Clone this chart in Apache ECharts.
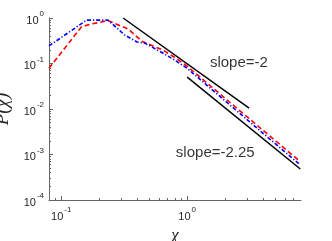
<!DOCTYPE html>
<html>
<head>
<meta charset="utf-8">
<script src="https://cdn.jsdelivr.net/npm/echarts@6/dist/echarts.min.js"></script>
<style>html,body{margin:0;padding:0;background:#fff;}#c{width:332px;height:241px;}</style>
</head>
<body>
<div id="c"></div>
<script>
// ---- data ----
var blueX = [0.08, 0.159, 0.235, 0.32, 0.40, 0.46, 0.54, 0.64, 0.8, 1.0, 2.0, 4.0, 7.9];
var blueY = [0.243, 0.90, 0.90, 0.42, 0.297, 0.28, 0.22, 0.17, 0.118, 0.078, 0.0151, 0.00292, 0.00059];
var redX = [0.08, 0.145, 0.174, 0.235, 0.33, 0.37, 0.435, 0.54, 0.64, 0.8, 1.0, 2.0, 4.0, 7.9];
var redY = [0.0785, 0.644, 0.738, 0.873, 0.594, 0.468, 0.31, 0.24, 0.198, 0.135, 0.087, 0.0171, 0.0034, 0.000695];
var slope2X = [0.31, 3.1];
var slope2Y = [1.0, 0.0105];
var slope225X = [1.0, 7.9];
var slope225Y = [0.05, 0.00048];
var xMajorTicks = [0.1, 1];
var xMinorTicks = [0.09, 0.2, 0.3, 0.4, 0.5, 0.6, 0.7, 0.8, 0.9, 2, 3, 4, 5, 6, 7];
var yMajorTicks = [0.0001, 0.001, 0.01, 0.1, 1];
var yMinorTicks = [0.0002,0.0003,0.0004,0.0005,0.0006,0.0007,0.0008,0.0009,
                   0.002,0.003,0.004,0.005,0.006,0.007,0.008,0.009,
                   0.02,0.03,0.04,0.05,0.06,0.07,0.08,0.09,
                   0.2,0.3,0.4,0.5,0.6,0.7,0.8,0.9];
var annotations = [
  {text: 'slope=-2', x: 2.57, y: 0.103},
  {text: 'slope=-2.25', x: 1.67, y: 0.00108}
];

function zip(a, b) { return a.map(function (v, i) { return [v, b[i]]; }); }
function powLabel(v) {
  var e = Math.round(Math.log10(v));
  return '{b|10}{s|' + e + '}';
}
var FONT = 'Liberation Sans';
var richLab = {
  b: {fontSize: 11, fontFamily: FONT, color: '#262626', verticalAlign: 'bottom', lineHeight: 16},
  s: {fontSize: 8, fontFamily: FONT, color: '#262626', verticalAlign: 'top', lineHeight: 16, padding: [0, 0, 0, 1]}
};
var axisCol = '#666666';

var chart = echarts.init(document.getElementById('c'), null, {renderer: 'canvas'});
chart.setOption({
  animation: false,
  backgroundColor: '#ffffff',
  grid: {left: 49, top: 18, width: 252, height: 182, containLabel: false, outerBoundsMode: 'none'},
  xAxis: [{
    type: 'log', logBase: 10, min: 0.08, max: 8, position: 'bottom',
    name: 'χ', nameLocation: 'middle', nameGap: 22,
    nameTextStyle: {fontFamily: 'Liberation Serif', fontStyle: 'italic', fontSize: 17, color: '#262626'},
    axisLine: {show: true, lineStyle: {color: axisCol, width: 1}},
    axisTick: {show: true, inside: true, length: 4, customValues: xMajorTicks, lineStyle: {color: axisCol}},
    minorTick: {show: false},
    axisLabel: {customValues: xMajorTicks, formatter: powLabel, rich: richLab, margin: 6},
    splitLine: {show: false}
  }, {
    type: 'log', logBase: 10, min: 0.08, max: 8, position: 'bottom', gridIndex: 0,
    axisLine: {show: false},
    axisTick: {show: true, inside: true, length: 2, customValues: xMinorTicks, lineStyle: {color: axisCol}},
    axisLabel: {show: false},
    splitLine: {show: false}
  }],
  yAxis: [{
    type: 'log', logBase: 10, min: 0.0001, max: 1, position: 'left',
    name: 'P(χ)', nameLocation: 'middle', nameGap: 29, nameRotate: 90,
    nameTextStyle: {fontFamily: 'Liberation Serif', fontStyle: 'italic', fontSize: 19, color: '#262626'},
    axisLine: {show: true, lineStyle: {color: axisCol, width: 1}},
    axisTick: {show: true, inside: true, length: 4, customValues: yMajorTicks, lineStyle: {color: axisCol}},
    axisLabel: {customValues: yMajorTicks, formatter: powLabel, rich: richLab, margin: 5},
    splitLine: {show: false}
  }, {
    type: 'log', logBase: 10, min: 0.0001, max: 1, position: 'left',
    axisLine: {show: false},
    axisTick: {show: true, inside: true, length: 2, customValues: yMinorTicks, lineStyle: {color: axisCol}},
    axisLabel: {show: false},
    splitLine: {show: false}
  }],
  series: [
    {type: 'line', name: 'red', data: zip(redX, redY), symbol: 'none', z: 3,
     lineStyle: {color: '#ff0000', width: 1.6, type: [5, 3]}},
    {type: 'line', name: 'blue', data: zip(blueX, blueY), symbol: 'none', z: 4,
     lineStyle: {color: '#0000ff', width: 1.6, type: [4, 2, 1.2, 2]}},
    {type: 'line', name: 'slope -2', data: zip(slope2X, slope2Y), symbol: 'none', z: 2,
     lineStyle: {color: '#000000', width: 1.5}},
    {type: 'line', name: 'slope -2.25', data: zip(slope225X, slope225Y), symbol: 'none', z: 2,
     lineStyle: {color: '#000000', width: 1.5}},
    {type: 'scatter', name: 'notes', symbolSize: 0, z: 5,
     data: annotations.map(function (a) { return {value: [a.x, a.y], name: a.text}; }),
     label: {show: true, position: 'inside', formatter: '{b}', fontFamily: FONT, fontSize: 15, color: '#000000'}}
  ]
});
</script>
</body>
</html>
